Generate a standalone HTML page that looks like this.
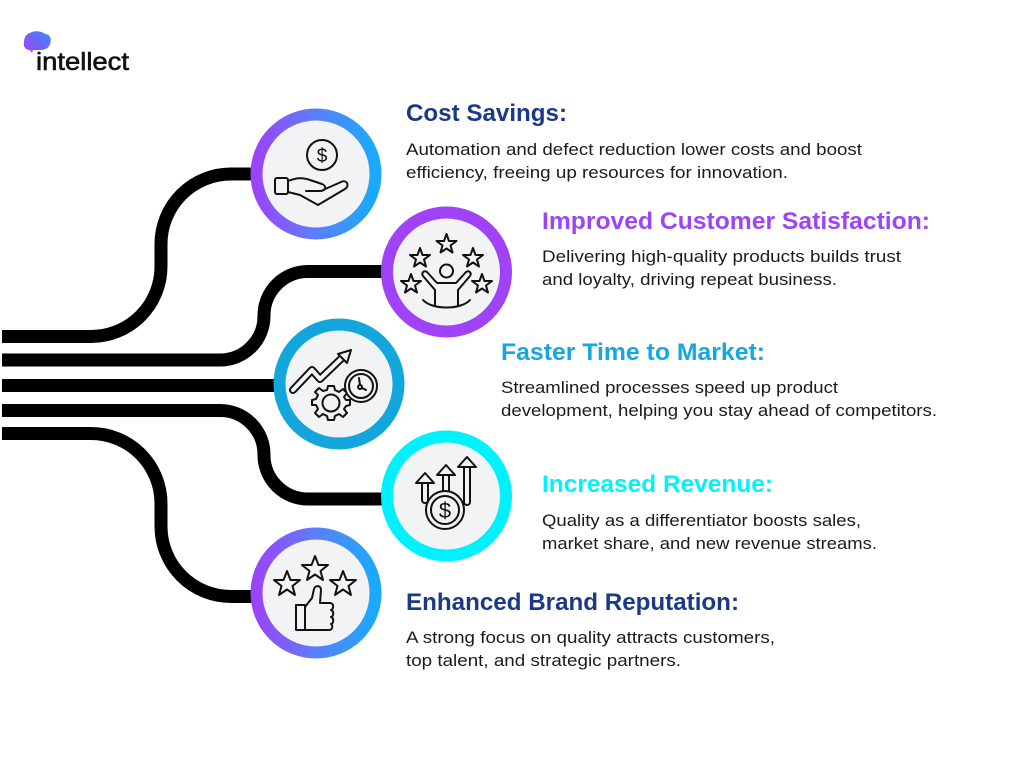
<!DOCTYPE html>
<html><head><meta charset="utf-8"><style>
html,body{margin:0;padding:0;background:#fff;width:1024px;height:768px;overflow:hidden}
svg{display:block}
.h{font-family:"Liberation Sans",Arial,sans-serif;font-weight:bold;font-size:24px}
.b{font-family:"Liberation Sans",Arial,sans-serif;font-size:17px;fill:#1b1b1b}
</style></head><body>
<svg width="1024" height="768" viewBox="0 0 1024 768" xmlns="http://www.w3.org/2000/svg">
<defs>
<linearGradient id="pg" x1="0" y1="0" x2="1" y2="0">
<stop offset="0" stop-color="#9a44f8"/><stop offset="0.5" stop-color="#5b7ffa"/><stop offset="1" stop-color="#1aaafb"/>
</linearGradient>
<linearGradient id="lg" x1="0" y1="1" x2="1" y2="0">
<stop offset="0" stop-color="#a43ef5"/><stop offset="1" stop-color="#3a8cf8"/>
</linearGradient>
</defs>
<rect width="1024" height="768" fill="#fff"/>

<!-- logo -->
<path d="M30,33 C34,30 42,31 45,34 C50,34 52,39 50,44 C49,48 45,50 40,50 L33,50 L32,53 L30,50 C25,50 23,46 24,42 C24,38 26,34 30,33 Z" fill="url(#lg)"/>
<text x="36" y="70" font-family="Liberation Sans,Arial,sans-serif" font-size="25" fill="#111" stroke="#111" stroke-width="0.6" textLength="93" lengthAdjust="spacingAndGlyphs">intellect</text>

<!-- connectors -->
<g fill="none" stroke="#000" stroke-width="13">
<path d="M2,336.5 H91 A70,70 0 0 0 161,266.5 V244 A70,70 0 0 1 231,174 H262"/>
<path d="M2,360 H220 A44,44 0 0 0 264,316 V315.5 A44,44 0 0 1 308,271.5 H392"/>
<path d="M2,385.5 H285"/>
<path d="M2,410.5 H220 A44,44 0 0 1 264,454.5 V455 A44,44 0 0 0 308,499 H392"/>
<path d="M2,433.5 H91 A70,70 0 0 1 161,503.5 V526.5 A70,70 0 0 0 231,596.5 H262"/>
</g>

<!-- circles -->
<circle cx="316" cy="174" r="59.5" fill="#f2f3f5" stroke="url(#pg)" stroke-width="12"/>
<circle cx="446.5" cy="272" r="59.5" fill="#f2f3f5" stroke="#a042f8" stroke-width="12"/>
<circle cx="339" cy="384" r="59.5" fill="#f2f3f5" stroke="#13a6dc" stroke-width="12"/>
<circle cx="446.5" cy="496" r="59.5" fill="#f2f3f5" stroke="#00f1fe" stroke-width="12"/>
<circle cx="316" cy="593" r="59.5" fill="#f2f3f5" stroke="url(#pg)" stroke-width="12"/>

<!-- icon 1: hand with coin -->
<g fill="none" stroke="#111" stroke-width="2" stroke-linejoin="round" stroke-linecap="round">
<circle cx="322" cy="155" r="15"/>
<text x="322" y="162" text-anchor="middle" font-family="Liberation Sans,Arial,sans-serif" font-size="19" fill="#111" stroke="none">$</text>
<rect x="275" y="178" width="13" height="16" rx="2"/>
<path d="M288,181 C296,178 302,177 310,180 L322,184 C327,186 326,191 320,191 L306,191"/>
<path d="M288,192 L300,195 L318,205 L345,189 C350,186 347,179 341,182 L323,190"/>
</g>

<!-- icon 2: person with stars -->
<g fill="none" stroke="#111" stroke-width="2" stroke-linejoin="round" stroke-linecap="round">
<circle cx="446.5" cy="271" r="6.5"/>
<path d="M423,276 C421,273 424,270 427,272 L437,283 L456,283 L466,272 C469,270 472,273 470,276 L458,290 L458,305"/>
<path d="M423,276 L435,290 L435,305"/>
<path d="M423,300 C432,310 461,310 470,300"/>
<polygon points="446.5,234 449,241 456.5,241 450.5,245.5 452.5,252.5 446.5,248.5 440.5,252.5 442.5,245.5 436.5,241 444,241"/>
<polygon points="420,248 422.5,255 430,255 424,259.5 426,266.5 420,262.5 414,266.5 416,259.5 410,255 417.5,255"/>
<polygon points="473,248 475.5,255 483,255 477,259.5 479,266.5 473,262.5 467,266.5 469,259.5 463,255 470.5,255"/>
<polygon points="411,274 413.5,281 421,281 415,285.5 417,292.5 411,288.5 405,292.5 407,285.5 401,281 408.5,281"/>
<polygon points="482,274 484.5,281 492,281 486,285.5 488,292.5 482,288.5 476,292.5 478,285.5 472,281 479.5,281"/>
</g>

<!-- icon 3: arrow, gear, clock -->
<g fill="none" stroke-linejoin="round" stroke-linecap="round">
<path d="M293,390 L312,370 L320,379 L344,356" stroke="#111" stroke-width="8"/>
<path d="M293,390 L312,370 L320,379 L344,356" stroke="#f2f3f5" stroke-width="4"/>
<polygon points="351,350 347,363 338,354" fill="#f2f3f5" stroke="#111" stroke-width="2"/>
<g stroke="#111" stroke-width="2">
<path d="M328,386 L334,386 L335,390 L339,392 L343,389 L347,393 L344,397 L346,400 L350,400 L350,405 L346,406 L344,409 L347,413 L343,417 L339,414 L335,416 L334,420 L328,420 L327,416 L323,414 L319,417 L315,413 L318,409 L316,405 L312,405 L312,400 L316,399 L318,395 L315,392 L319,388 L323,391 L327,390 Z" fill="#f2f3f5"/>
<circle cx="331" cy="403" r="8.5"/>
<circle cx="361" cy="386" r="16" fill="#f2f3f5"/>
<circle cx="361" cy="386" r="12"/>
<circle cx="360" cy="387" r="2"/>
<path d="M360,385 L359,378 M362,388 L366,390"/>
</g>
</g>

<!-- icon 4: coin with arrows -->
<g fill="none" stroke-linejoin="round" stroke-linecap="round">
<g stroke="#111" stroke-width="8">
<path d="M425,500 V483"/><path d="M446,495 V475"/><path d="M467,502 V467"/>
</g>
<g stroke="#f2f3f5" stroke-width="4">
<path d="M425,500 V483"/><path d="M446,495 V475"/><path d="M467,502 V467"/>
</g>
<g stroke="#111" stroke-width="2" fill="#f2f3f5">
<polygon points="425,473 434,483 416,483"/>
<polygon points="446,465 455,475 437,475"/>
<polygon points="467,457 476,467 458,467"/>
<circle cx="445" cy="510" r="19"/>
<circle cx="445" cy="510" r="14"/>
</g>
<text x="445" y="518" text-anchor="middle" font-family="Liberation Sans,Arial,sans-serif" font-size="22" fill="#111">$</text>
</g>

<!-- icon 5: stars + thumbs up -->
<g fill="none" stroke="#111" stroke-width="2" stroke-linejoin="round" stroke-linecap="round">
<polygon points="287,571 290.5,580 300,580 292.5,586 295,595 287,589.5 279,595 281.5,586 274,580 283.5,580"/>
<polygon points="315,556 318.5,565 328,565 320.5,571 323,580 315,574.5 307,580 309.5,571 302,565 311.5,565"/>
<polygon points="343,571 346.5,580 356,580 348.5,586 351,595 343,589.5 335,595 337.5,586 330,580 339.5,580"/>
<rect x="296" y="605" width="9" height="25"/>
<path d="M305,607 L312,598 L314,589 C315,585 321,585 321,590 L320,603 L330,603 C334,603 334,609 331,610 C334,611 334,616 331,617 C334,618 334,623 331,624 C333,625 333,630 329,630 L305,630"/>
</g>

<!-- text blocks -->
<text class="h" x="406" y="121" fill="#1c3987" textLength="161" lengthAdjust="spacingAndGlyphs">Cost Savings:</text>
<text class="b" x="406" y="155" textLength="456" lengthAdjust="spacingAndGlyphs">Automation and defect reduction lower costs and boost</text>
<text class="b" x="406" y="178" textLength="382" lengthAdjust="spacingAndGlyphs">efficiency, freeing up resources for innovation.</text>

<text class="h" x="542" y="229" fill="#9d45f6" textLength="388" lengthAdjust="spacingAndGlyphs">Improved Customer Satisfaction:</text>
<text class="b" x="542" y="262" textLength="359" lengthAdjust="spacingAndGlyphs">Delivering high-quality products builds trust</text>
<text class="b" x="542" y="285" textLength="295" lengthAdjust="spacingAndGlyphs">and loyalty, driving repeat business.</text>

<text class="h" x="501" y="360" fill="#15a7e0" textLength="264" lengthAdjust="spacingAndGlyphs">Faster Time to Market:</text>
<text class="b" x="501" y="393" textLength="337" lengthAdjust="spacingAndGlyphs">Streamlined processes speed up product</text>
<text class="b" x="501" y="416" textLength="436" lengthAdjust="spacingAndGlyphs">development, helping you stay ahead of competitors.</text>

<text class="h" x="542" y="492" fill="#00f2fd" textLength="231" lengthAdjust="spacingAndGlyphs">Increased Revenue:</text>
<text class="b" x="542" y="526" textLength="319" lengthAdjust="spacingAndGlyphs">Quality as a differentiator boosts sales,</text>
<text class="b" x="542" y="549" textLength="335" lengthAdjust="spacingAndGlyphs">market share, and new revenue streams.</text>

<text class="h" x="406" y="610" fill="#1c3987" textLength="333" lengthAdjust="spacingAndGlyphs">Enhanced Brand Reputation:</text>
<text class="b" x="406" y="643" textLength="369" lengthAdjust="spacingAndGlyphs">A strong focus on quality attracts customers,</text>
<text class="b" x="406" y="666" textLength="275" lengthAdjust="spacingAndGlyphs">top talent, and strategic partners.</text>
</svg>
</body></html>
